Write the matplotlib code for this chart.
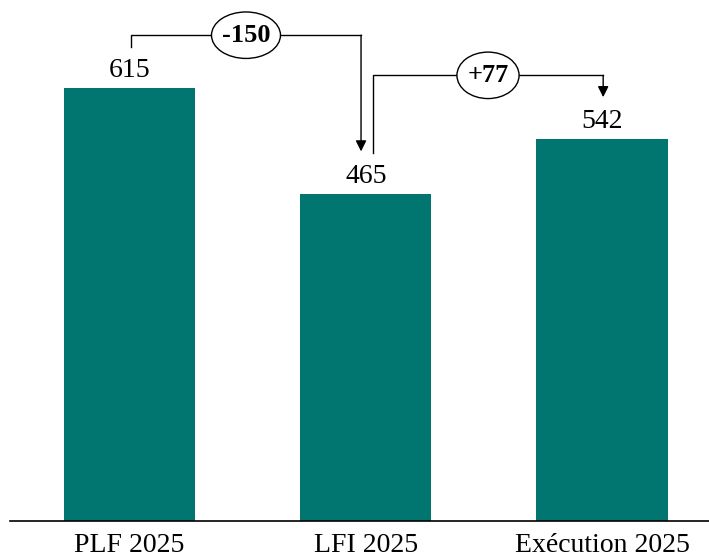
import matplotlib.pyplot as plt
from matplotlib.patches import Ellipse

categories = ["PLF 2025", "LFI 2025", "Exécution 2025"]
values = [615, 465, 542]
deltas = ["-150", "+77"]
bar_color = "#017570"

plt.rcParams['font.family'] = ['Liberation Serif', 'DejaVu Serif']

fig = plt.figure(figsize=(7.09, 5.57), dpi=100)
ax = fig.add_axes([10 / 709, 36 / 557, 699 / 709, 521 / 557])

x = range(len(values))
ax.bar(x, values, width=0.555, color=bar_color)

for i, v in enumerate(values):
    ax.text(i, v + 7, str(v), ha="center", va="bottom", fontsize=20)

# connectors between bars
off = 60
levels = [690, 633]
xs = [(0.006, 0.98), (1.03, 2.005)]
ell_w = [0.292, 0.263]
for k in range(2):
    x0, x1 = xs[k]
    y = levels[k]
    ax.plot([x0, x0, x1], [values[k] + off - 2, y, y], color="black", lw=1)
    ax.annotate("", xy=(x1, values[k + 1] + off), xytext=(x1, y),
                arrowprops=dict(arrowstyle="-|>", color="black", lw=1,
                                mutation_scale=16, shrinkA=0, shrinkB=0))
    xm = (x0 + x1) / 2
    ax.add_patch(Ellipse((xm, y), ell_w[k], 66, fc="white", ec="black",
                         lw=1, zorder=3))
    ax.text(xm, y, deltas[k], ha="center", va="center", fontsize=19,
            fontweight="bold", zorder=4)

ax.set_xlim(-0.506, 2.453)
ax.set_ylim(0, 740)
ax.set_xticks(list(x))
ax.set_xticklabels(categories, fontsize=20)
ax.tick_params(axis="x", length=0, pad=9)
ax.set_yticks([])
for s in ["top", "right", "left"]:
    ax.spines[s].set_visible(False)
ax.spines["bottom"].set_linewidth(1.2)

fig.savefig("out.png", dpi=100)
